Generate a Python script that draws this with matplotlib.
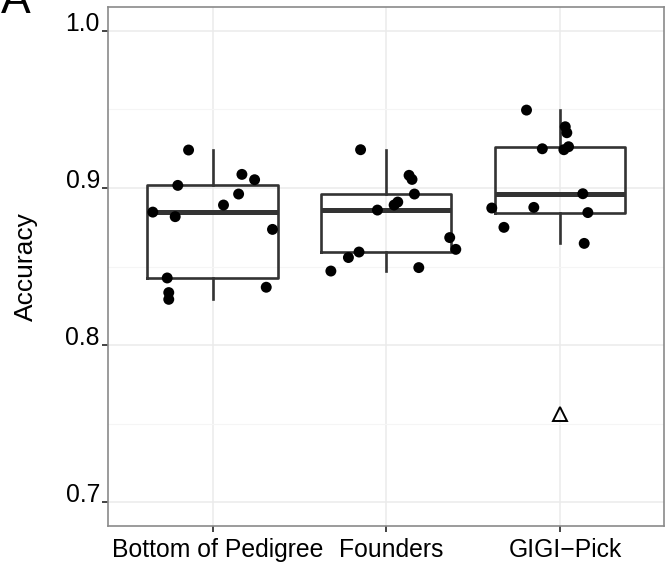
import numpy as np
import matplotlib
matplotlib.use("Agg")
import matplotlib.pyplot as plt
from matplotlib.ticker import MultipleLocator, FormatStrFormatter
from matplotlib.transforms import ScaledTranslation

plt.rcParams['font.family'] = ['Liberation Sans', 'DejaVu Sans']

categories = ["Bottom of Pedigree", "Founders", "GIGI\u2212Pick"]

# accuracy values
bottom_acc = [0.9242, 0.9017, 0.9087, 0.9053, 0.8962, 0.8892, 0.8847,
              0.8818, 0.8737, 0.8428, 0.8335, 0.8292, 0.8369]
founders_acc = [0.9244, 0.9081, 0.9055, 0.8962, 0.8892, 0.8911, 0.8860,
                0.8685, 0.8610, 0.8593, 0.8558, 0.8472, 0.8494]
gigi_acc = [0.9496, 0.9390, 0.9352, 0.9263, 0.9244, 0.9250, 0.8964,
            0.8873, 0.8877, 0.8844, 0.8750, 0.8648, 0.7561]

# horizontal jitter of each dot (category units), None = not drawn
bottom_jit = [-0.138, -0.200, 0.169, 0.242, 0.150, 0.063, -0.344,
              -0.215, 0.345, -0.261, -0.252, -0.252, 0.309]
founders_jit = [-0.148, 0.131, 0.148, 0.162, 0.045, 0.066, -0.051,
                0.365, 0.400, -0.157, -0.218, -0.319, 0.187]
gigi_jit = [-0.193, 0.030, 0.039, 0.049, 0.022, -0.102, 0.131,
            -0.393, -0.151, 0.160, -0.323, 0.139, None]

groups = [bottom_acc, founders_acc, gigi_acc]
jitters = [bottom_jit, founders_jit, gigi_jit]
positions = np.arange(1, len(categories) + 1)

fig = plt.figure(figsize=(6.66, 5.62), dpi=100)
ax = fig.add_axes([108.3 / 666, 1 - 526 / 562, 556 / 666, 518.7 / 562])

box_col = "#333333"
ax.boxplot(groups, positions=positions, widths=0.75, whis=1.5,
           showcaps=False, manage_ticks=False,
           boxprops=dict(color=box_col, linewidth=1.9),
           whiskerprops=dict(color=box_col, linewidth=1.9),
           medianprops=dict(color=box_col, linewidth=3.6, solid_capstyle='butt'),
           flierprops=dict(marker='^', markersize=9.5, markerfacecolor='none',
                           markeredgecolor='black', markeredgewidth=1.4),
           zorder=3)

for pos, vals, jit in zip(positions, groups, jitters):
    xs = [pos + j for v, j in zip(vals, jit) if j is not None]
    ys = [v for v, j in zip(vals, jit) if j is not None]
    ax.scatter(xs, ys, s=62, color='black', edgecolors='none', zorder=4)

ax.set_xlim(0.4, 3.6)
ax.set_ylim(0.685, 1.015)
ax.yaxis.set_major_locator(MultipleLocator(0.1))
ax.yaxis.set_minor_locator(MultipleLocator(0.05))
ax.yaxis.set_major_formatter(FormatStrFormatter('%.1f'))
ax.set_xticks(positions)
ax.set_xticklabels(categories)

ax.grid(True, which='major', color='#ebebeb', linewidth=1.1, zorder=0)
ax.grid(True, which='minor', axis='y', color='#f5f5f5', linewidth=0.8, zorder=0)
ax.set_axisbelow(True)

for sp in ax.spines.values():
    sp.set_color('#8a8a8a')
    sp.set_linewidth(1.2)

ax.tick_params(axis='both', which='major', length=4.5, width=1.2, color='#222222',
               labelsize=17.8, labelcolor='black')
ax.tick_params(axis='x', which='major', pad=4)
ax.tick_params(axis='y', which='major', pad=1.5)
ax.tick_params(axis='y', which='minor', length=0)

# y labels sit on top of their tick, x labels slightly right of the tick
for lab in ax.get_yticklabels():
    lab.set_verticalalignment('baseline')
shift = ScaledTranslation(5 / 100, 0, fig.dpi_scale_trans)
for lab in ax.get_xticklabels():
    lab.set_transform(lab.get_transform() + shift)

ax.set_ylabel("Accuracy", fontsize=19, labelpad=20)

fig.text(0.002, 1 - 13 / 562, "A", fontsize=32, va='baseline', ha='left')

fig.savefig("out.png", dpi=100)
